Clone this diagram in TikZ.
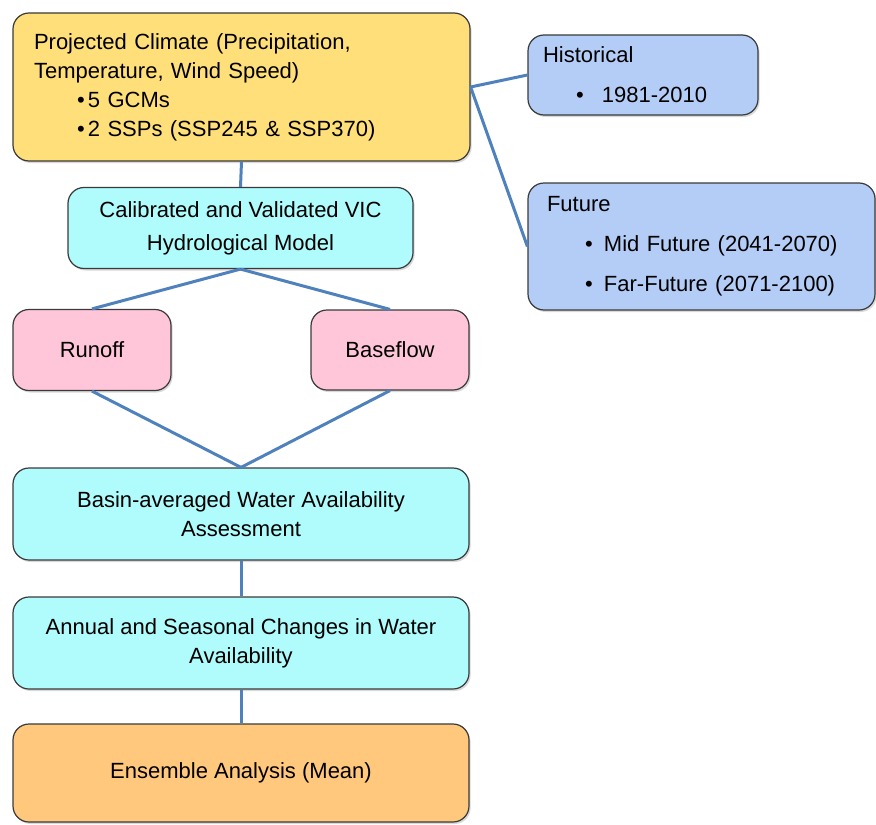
\documentclass[tikz,border=0pt]{standalone}
\usepackage{fontspec}
\setmainfont{Liberation Sans}
\usetikzlibrary{shadows}

\definecolor{climfill}{HTML}{FFDF7A}
\definecolor{periodfill}{HTML}{B4CDF6}
\definecolor{modelfill}{HTML}{B0FBFB}
\definecolor{flowfill}{HTML}{FFC6DA}
\definecolor{ensfill}{HTML}{FFC87C}
\definecolor{boxline}{HTML}{3A3A3A}
\definecolor{linkblue}{HTML}{4F81BD}

\tikzset{
  box/.style={draw=boxline, line width=0.6pt, rounded corners=8pt, inner sep=0pt,
    drop shadow={shadow xshift=0.8pt, shadow yshift=-1pt, opacity=0.3},
    font=\fontsize{11}{14.5}\selectfont},
  link/.style={draw=linkblue, line width=1.5pt}
}
\newcommand{\bitem}[3]{\hspace*{#1}\makebox[#2][l]{\textbullet}#3}

\begin{document}
\begin{tikzpicture}[x=0.5pt, y=-0.5pt]
        \useasboundingbox (0,0) rectangle (876,824);

        \node[box, fill=climfill, align=left, text width=207.5pt, inner xsep=10.5pt, minimum height=74pt] (clim) at (241.5,87)
            {Projected Climate (Precipitation,\\ Temperature, Wind Speed)\\
             \bitem{21.5pt}{5.5pt}{5 GCMs}\\ \bitem{21.5pt}{5.5pt}{2 SSPs (SSP245 \& SSP370)}};
        \node[box, fill=periodfill, align=left, text width=100pt, inner xsep=7.5pt, minimum height=40pt,
            font=\fontsize{11}{20}\selectfont] (hist) at (643,75)
            {Historical\\ \bitem{16.5pt}{13pt}{1981-2010}};
        \node[box, fill=periodfill, align=left, text width=154.5pt, inner xsep=9.5pt, minimum height=63.5pt,
            font=\fontsize{11}{20}\selectfont] (fut) at (701.5,246.5)
            {Future\\ \bitem{19pt}{9.5pt}{Mid Future (2041-2070)}\\ \bitem{19pt}{9.5pt}{Far-Future (2071-2100)}};
        \node[box, fill=modelfill, align=center, minimum width=172.5pt, minimum height=40.5pt,
            font=\fontsize{11}{16.5}\selectfont] (vic) at (240.5,228)
            {Calibrated and Validated VIC\\ Hydrological Model};
        \node[box, fill=flowfill, minimum width=79pt, minimum height=40.5pt] (runoff) at (92,350) {Runoff};
        \node[box, fill=flowfill, minimum width=79pt, minimum height=40pt] (base) at (390,350) {Baseflow};
        \node[box, fill=modelfill, align=center, minimum width=228pt, minimum height=46pt] (basin) at (241,514)
            {Basin-averaged Water Availability\\ Assessment};
        \node[box, fill=modelfill, align=center, minimum width=228pt, minimum height=46pt] (annual) at (241,643)
            {Annual and Seasonal Changes in Water\\ Availability};
        \node[box, fill=ensfill, minimum width=228pt, minimum height=49pt] (ens) at (241,773)
            {Ensemble Analysis (Mean)};

        \path[link] (clim.east) -- (hist.west);
        \path[link] (clim.east) -- (fut.west);
        \path[link] (clim.south) -- (vic.north);
        \path[link] (vic.south) -- (runoff.north);
        \path[link] (vic.south) -- (base.north);
        \path[link] (runoff.south) -- (basin.north);
        \path[link] (base.south) -- (basin.north);
        \path[link] (basin.south) -- (annual.north);
        \path[link] (annual.south) -- (ens.north);
\end{tikzpicture}
\end{document}
